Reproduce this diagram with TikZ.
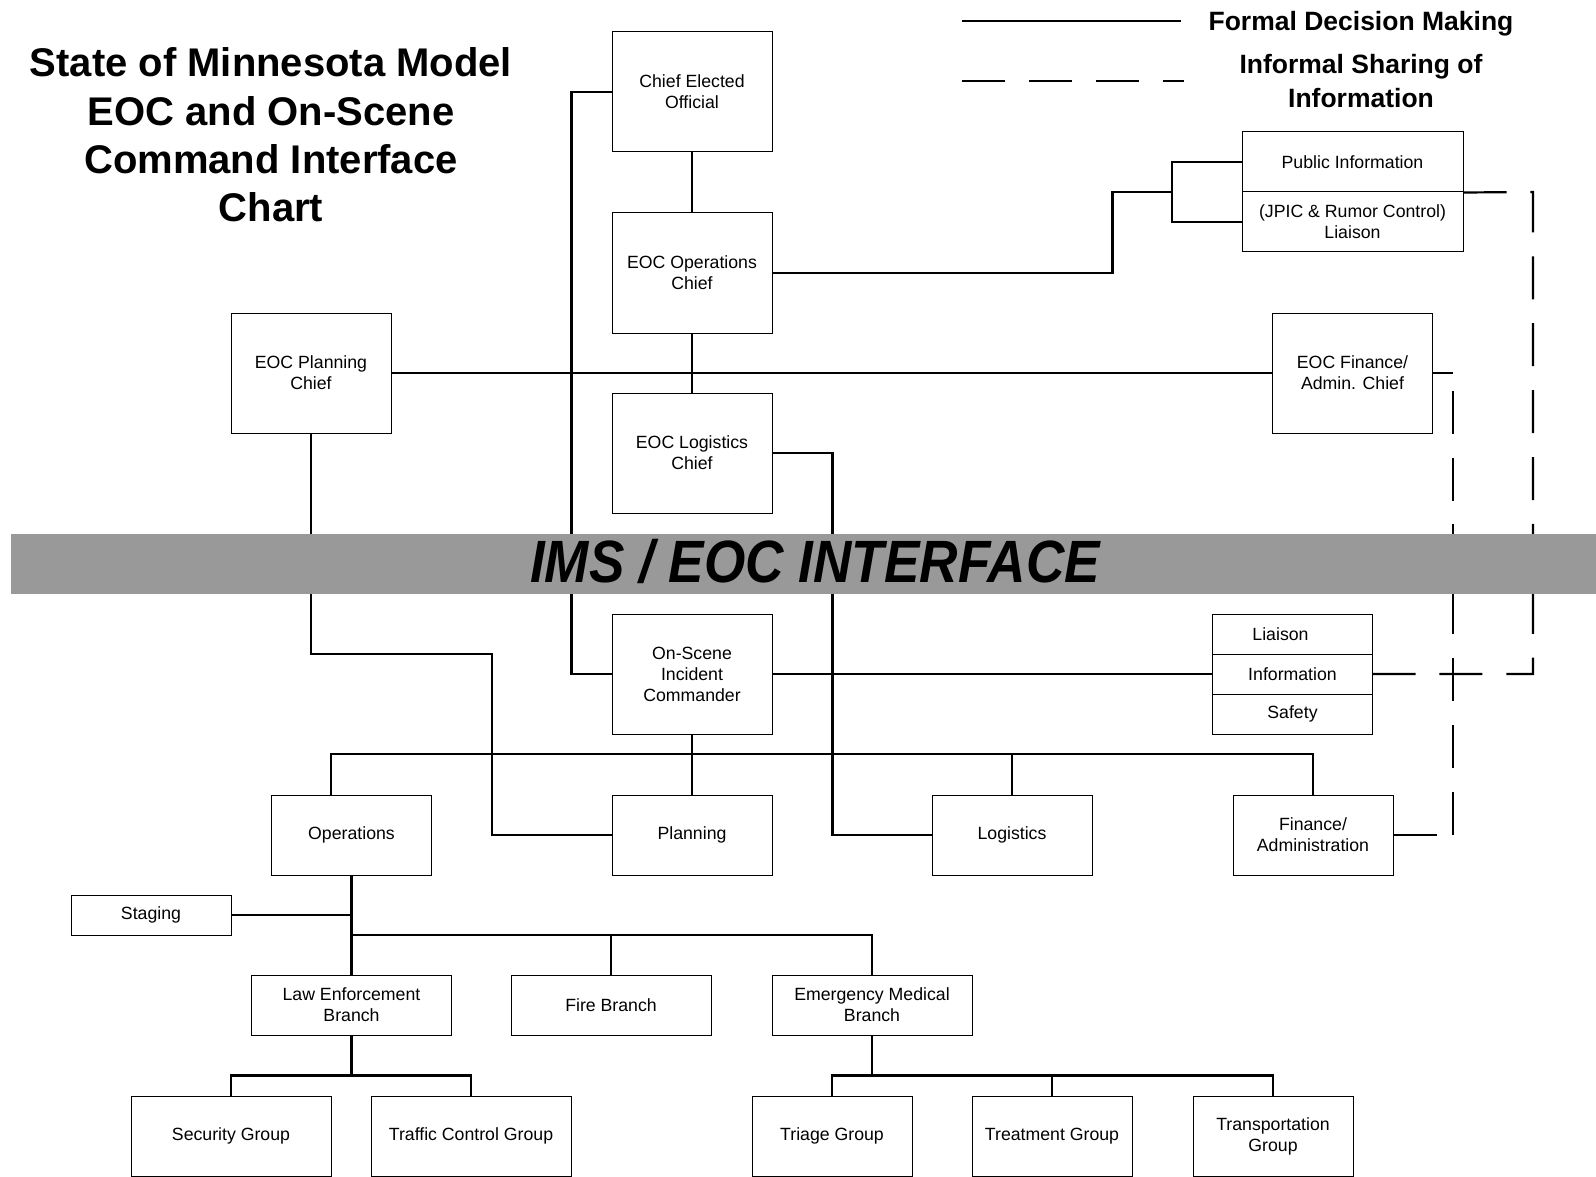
\documentclass[tikz,border=0pt]{standalone}
\usepackage{fontspec}
\setmainfont{Liberation Sans}
\usetikzlibrary{calc}
\definecolor{bandgray}{RGB}{153,153,153}
\begin{document}
\begin{tikzpicture}[x=1pt,y=-1pt,
  box/.style={draw=black, line width=1pt, fill=white, minimum width=160pt,
    minimum height=120pt, inner sep=0pt, align=center,
    font=\fontsize{17.7}{21}\selectfont},
  link/.style={line width=2.2pt},
  info/.style={line width=2.2pt, dash pattern=on 43pt off 23.9pt},
  titletext/.style={anchor=base, inner sep=0pt, font=\fontsize{40}{48}\selectfont\bfseries},
  legendtext/.style={anchor=base, inner sep=0pt, font=\fontsize{26.5}{32}\selectfont\bfseries}]
\useasboundingbox (0,0) rectangle (1596,1177);

% title
\node[titletext] (t1) at (271,77)  {State of Minnesota Model};
\node[titletext] (t2) at (271,126) {EOC and On-Scene};
\node[titletext] (t3) at (271,174) {Command Interface};
\node[titletext] (t4) at (271,222) {Chart};

% legend
\coordinate (solidA) at (962,21);
\coordinate (solidB) at (1181,21);
\coordinate (dashA) at (962,81);
\coordinate (dashB) at (1184,81);
\draw[link] (solidA) -- (solidB);
\draw[info] (dashA) -- (dashB);
\node[legendtext] (formal) at (1361,31) {Formal Decision Making};
\node[legendtext] (informalA) at (1361,74) {Informal Sharing of};
\node[legendtext] (informalB) at (1361,108) {Information};

% EOC level
\node[box] (ceo) at (692,92) {Chief Elected\\Official};
\node[box] (opschief) at (692,273) {EOC Operations\\Chief};
\node[box] (logchief) at (692,453) {EOC Logistics\\Chief};
\node[box] (planchief) at (311,373) {EOC Planning\\Chief};
\node[box] (finchief) at (1352.5,373) {EOC Finance/\\Admin. Chief};
\node[box, minimum width=221pt, minimum height=60pt] (pubtop) at (1352.5,162) {Public Information};
\node[box, minimum width=221pt, minimum height=60pt] (pubbot) at (1352.5,222) {(JPIC \& Rumor Control)\\Liaison};

% on-scene level
\node[box] (osic) at (692,674) {On-Scene\\Incident\\Commander};
\node[box, minimum height=40pt] (lia) at (1292.5,634) {Liaison\kern24pt};
\node[box, minimum height=40pt] (infoc) at (1292.5,674) {Information};
\node[box, minimum height=40pt] (safety) at (1292.5,714) {Safety};

\node[box, minimum height=80pt] (ops) at (351.5,835) {Operations};
\node[box, minimum height=80pt] (plan) at (692,835) {Planning};
\node[box, minimum height=80pt] (logi) at (1012,835) {Logistics};
\node[box, minimum height=80pt] (fin) at (1313,835) {Finance/\\Administration};

\node[box, minimum height=40pt] (staging) at (151,915) {Staging};
\node[box, minimum width=200pt, minimum height=60pt] (leb) at (351.5,1005) {Law Enforcement\\Branch};
\node[box, minimum width=200pt, minimum height=60pt] (fire) at (611,1005) {Fire Branch};
\node[box, minimum width=200pt, minimum height=60pt] (emb) at (872,1005) {Emergency Medical\\Branch};

\node[box, minimum width=200pt, minimum height=80pt] (security) at (231,1136) {Security Group};
\node[box, minimum width=200pt, minimum height=80pt] (traffic) at (471,1136) {Traffic Control Group};
\node[box, minimum height=80pt] (triage) at (832,1136) {Triage Group};
\node[box, minimum height=80pt] (treatment) at (1052,1136) {Treatment Group};
\node[box, minimum height=80pt] (transport) at (1273,1136) {Transportation\\Group};

% formal decision making links
\draw[link] (ceo.west) -- ++(-40,0) |- (osic.west);
\draw[link] (ceo.south) -- (opschief.north);
\draw[link] (opschief.south) -- (logchief.north);
\draw[link] (planchief.east) -- (finchief.west);

\coordinate (pifork) at (1172,192);
\draw[link] (opschief.east) -- ++(340,0) |- (pifork);
\draw[link] (pubtop.west) -| (pifork) |- (pubbot.west);

\draw[link] (logchief.east) -- ++(60,0) |- (logi.west);
\coordinate (planbend) at (492,654);
\draw[link] (planchief.south) |- (planbend) |- (plan.west);

\draw[link] (osic.east) -- (infoc.west);
\draw[link] (osic.south) -- (plan.north);
\coordinate (opsdrop) at (331,795);
\coordinate (genbar) at (692,754);
\draw[link] (opsdrop) |- (genbar) -| (fin.north);
\draw[link] (logi.north) -- (logi.north |- genbar);

\draw[link] (ops.south) -- (leb.north);
\draw[link] (staging.east) -- (staging.east -| ops.south);
\coordinate (brbar) at (351.5,935);
\draw[link] (brbar) -| (emb.north);
\draw[link] (fire.north) -- (fire.north |- brbar);

\draw[link] (leb.south) -- ++(0,40);
\draw[link] (security.north) -- ++(0,-20) -| (traffic.north);
\draw[link] (emb.south) -- ++(0,40);
\draw[link] (triage.north) -- ++(0,-20) -| (transport.north);
\draw[link] (treatment.north) -- ++(0,-20);

% informal sharing of information
\coordinate (infocorner) at (1533,192);
\draw[info] (pubtop.south east) -- (infocorner) |- (infoc.east);
\coordinate (fincornerA) at (1453,373);
\coordinate (fincornerB) at (1453,835);
\draw[info] (fin.east) -- (fincornerB);
\draw[info] (fincornerB) -- (fincornerA);
\draw[info] (finchief.east) -- (fincornerA);

% interface band
\fill[bandgray] (11,534) rectangle (1596,594);
\node[anchor=base, inner sep=0pt] (band) at (815,582)
  {\scalebox{0.89}[1]{\fontsize{59.7}{60}\selectfont\bfseries\itshape IMS / EOC INTERFACE}};
\end{tikzpicture}
\end{document}
